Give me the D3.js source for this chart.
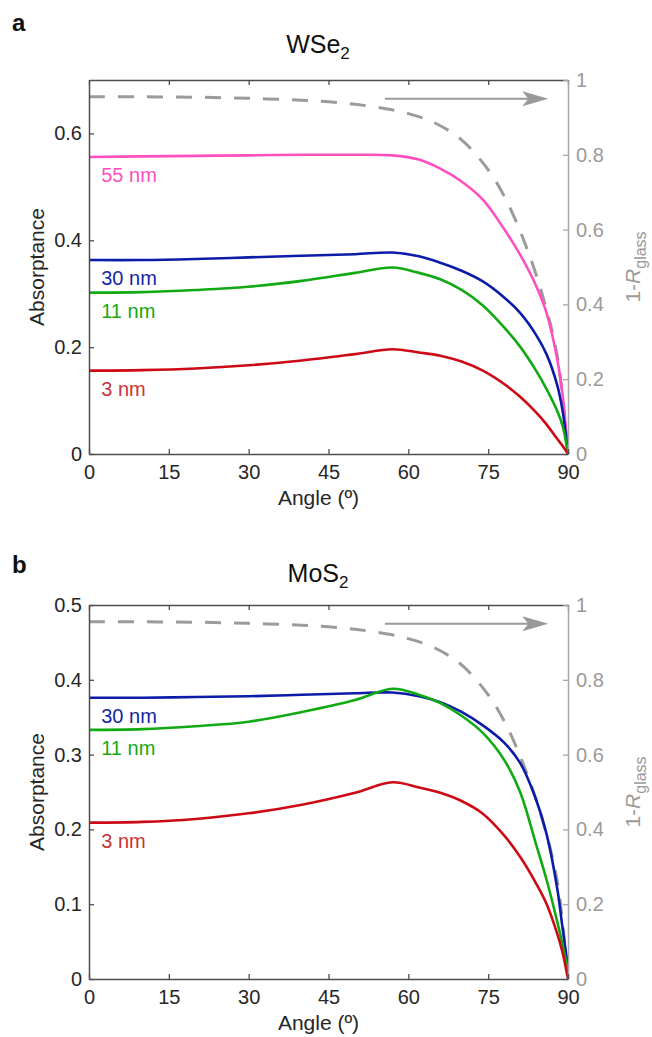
<!DOCTYPE html>
<html>
<head>
<meta charset="utf-8">
<script src="https://cdn.jsdelivr.net/npm/d3@7"></script>
<style>
  html, body { margin: 0; padding: 0; background: #fff; }
  svg { display: block; font-family: "Liberation Sans", Arial, Helvetica, sans-serif; }
</style>
</head>
<body>
<svg id="chart" width="652" height="1037"></svg>
<script>
// Incidence angle grid (degrees) shared by the absorptance curves
const angles = [0, 10, 20, 30, 40, 50, 57, 62, 66, 70, 74, 78, 81, 84, 86, 88, 89, 90];

// WSe2 absorptance for each flake thickness
const wse2_55nm = [0.556, 0.557, 0.558, 0.559, 0.560, 0.560, 0.559, 0.551, 0.534, 0.510, 0.476, 0.421, 0.373, 0.315, 0.263, 0.176, 0.110, 0];
const wse2_30nm = [0.363, 0.363, 0.365, 0.368, 0.371, 0.374, 0.377, 0.370, 0.358, 0.343, 0.323, 0.293, 0.264, 0.223, 0.186, 0.128, 0.080, 0];
const wse2_11nm = [0.302, 0.303, 0.307, 0.313, 0.324, 0.339, 0.349, 0.339, 0.327, 0.307, 0.278, 0.237, 0.201, 0.156, 0.121, 0.080, 0.052, 0];
const wse2_3nm  = [0.156, 0.157, 0.160, 0.166, 0.175, 0.187, 0.196, 0.190, 0.184, 0.173, 0.156, 0.131, 0.107, 0.078, 0.055, 0.028, 0.015, 0];

// MoS2 absorptance for each flake thickness
const mos2_30nm = [0.376, 0.376, 0.377, 0.378, 0.380, 0.382, 0.383, 0.378, 0.370, 0.357, 0.339, 0.316, 0.289, 0.240, 0.193, 0.120, 0.067, 0.016];
const mos2_11nm = [0.333, 0.334, 0.338, 0.344, 0.357, 0.373, 0.388, 0.380, 0.369, 0.352, 0.329, 0.293, 0.250, 0.180, 0.132, 0.076, 0.045, 0.010];
const mos2_3nm  = [0.209, 0.210, 0.214, 0.2215, 0.233, 0.249, 0.263, 0.256, 0.249, 0.238, 0.221, 0.192, 0.1635, 0.128, 0.100, 0.060, 0.035, 0];

// Glass transmission 1 - R_glass (right axis)
const glassAngles = [0, 10, 20, 30, 40, 45, 50, 55, 60, 65, 70, 75, 78, 80, 82, 84, 86, 87, 88, 89, 90];
const glassOneMinusR = [0.955, 0.955, 0.954, 0.951, 0.946, 0.942, 0.935, 0.925, 0.910, 0.885, 0.840, 0.760, 0.690, 0.630, 0.560, 0.480, 0.385, 0.330, 0.260, 0.150, 0];

// Tick values
const angleTicks = [0, 15, 30, 45, 60, 75, 90];
const wse2Ticks = [0, 0.2, 0.4, 0.6];
const mos2Ticks = [0, 0.1, 0.2, 0.3, 0.4, 0.5];
const glassTicks = [0, 0.2, 0.4, 0.6, 0.8, 1];

// Thickness labels and series colours
const thicknessNames = ["55 nm", "30 nm", "11 nm", "3 nm"];
const lineColors = { "55 nm": "#ff4fbf", "30 nm": "#0a1ca8", "11 nm": "#12aa12", "3 nm": "#cc0a16" };
const labelColors = { "55 nm": "#ff4fbf", "30 nm": "#1426a6", "11 nm": "#16a816", "3 nm": "#c83434" };

// Arrow pointing to the right axis (angle range, 1-R level)
const arrowAngles = [55.6, 86.3];
const arrowLevel = 0.95;

const panels = [
  { letter: "a", letterY: 31, title: "WSe", titleY: 53, top: 80, yMax: 0.7, yTicks: wse2Ticks,
    series: [["55 nm", wse2_55nm], ["30 nm", wse2_30nm], ["11 nm", wse2_11nm], ["3 nm", wse2_3nm]] },
  { letter: "b", letterY: 573, title: "MoS", titleY: 582, top: 605, yMax: 0.5, yTicks: mos2Ticks,
    series: [["30 nm", mos2_30nm], ["11 nm", mos2_11nm], ["3 nm", mos2_3nm]] }
];

const svg = d3.select("#chart");
const left = 89, width = 479, height = 374;
const axisDark = "#4d4d4d", textDark = "#262626", axisGray = "#a6a6a6", textGray = "#9a9a9a";

panels.forEach(p => {
  const g = svg.append("g").attr("transform", `translate(${left},${p.top})`);
  const x = d3.scaleLinear().domain([0, 90]).range([0, width]);
  const y = d3.scaleLinear().domain([0, p.yMax]).range([height, 0]);
  const yR = d3.scaleLinear().domain([0, 1]).range([height, 0]);
  const fmt = d => String(d);

  // Panel letter and title
  svg.append("text").attr("x", 12).attr("y", p.letterY)
    .attr("font-size", 24).attr("font-weight", "bold").attr("fill", "#111").text(p.letter);
  const t = svg.append("text").attr("x", 318).attr("y", p.titleY).attr("text-anchor", "middle")
    .attr("font-size", 25).attr("fill", "#111");
  t.append("tspan").text(p.title);
  t.append("tspan").attr("font-size", 17).attr("dy", 6).text("2");

  // Glass curve (dashed, right axis)
  const glassLine = d3.line().x((d, i) => x(glassAngles[i])).y(d => yR(d)).curve(d3.curveCatmullRom.alpha(0.5));
  g.append("path").datum(glassOneMinusR).attr("d", glassLine)
    .attr("fill", "none").attr("stroke", "#9b9b9b").attr("stroke-width", 3)
    .attr("stroke-dasharray", "16,13");

  // Absorptance curves
  const line = d3.line().x((d, i) => x(angles[i])).y(d => y(d)).curve(d3.curveCatmullRom.alpha(0.5));
  p.series.forEach(([name, vals]) => {
    g.append("path").datum(vals).attr("d", line)
      .attr("fill", "none").attr("stroke", lineColors[name]).attr("stroke-width", 2.6)
      .attr("stroke-linejoin", "round");
    g.append("text").attr("x", x(2.3)).attr("y", y(vals[0]) + 25)
      .attr("font-size", 20).attr("fill", labelColors[name]).text(name);
  });

  // Arrow toward the right axis
  const ax0 = x(arrowAngles[0]), ax1 = x(arrowAngles[1]), ay = yR(arrowLevel);
  g.append("line").attr("x1", ax0).attr("x2", ax1 - 20).attr("y1", ay).attr("y2", ay)
    .attr("stroke", "#999").attr("stroke-width", 2);
  g.append("path")
    .attr("d", `M${ax1},${ay} L${ax1 - 26},${ay - 7.5} L${ax1 - 20},${ay} L${ax1 - 26},${ay + 7.5} Z`)
    .attr("fill", "#999");

  // Axes
  const styleAxis = (sel, col, tcol) => {
    sel.select(".domain").attr("stroke", col).attr("stroke-width", 1.5);
    sel.selectAll(".tick line").attr("stroke", col).attr("stroke-width", 1.3);
    sel.selectAll(".tick text").attr("fill", tcol).attr("font-size", 20)
      .attr("font-family", "Liberation Sans, Arial, sans-serif");
  };

  const gxTop = g.append("g").call(d3.axisTop(x).tickValues(angleTicks).tickSizeInner(-5).tickSizeOuter(0).tickFormat(""));
  styleAxis(gxTop, axisDark, textDark);

  const gyR = g.append("g").attr("transform", `translate(${width},0)`)
    .call(d3.axisRight(yR).tickValues(glassTicks).tickSizeInner(-5).tickSizeOuter(0).tickPadding(8).tickFormat(fmt));
  styleAxis(gyR, axisGray, textGray);

  const gx = g.append("g").attr("transform", `translate(0,${height})`)
    .call(d3.axisBottom(x).tickValues(angleTicks).tickSizeInner(-5).tickSizeOuter(0).tickPadding(11).tickFormat(fmt));
  styleAxis(gx, axisDark, textDark);

  const gy = g.append("g")
    .call(d3.axisLeft(y).tickValues(p.yTicks).tickSizeInner(-5).tickSizeOuter(0).tickPadding(7).tickFormat(fmt));
  styleAxis(gy, axisDark, textDark);

  // Axis titles
  g.append("text").attr("x", width / 2 - 10).attr("y", height + 51).attr("text-anchor", "middle")
    .attr("font-size", 21).attr("fill", textDark).text("Angle (º)");
  g.append("text").attr("transform", `translate(${44 - left},${height / 2}) rotate(-90)`)
    .attr("text-anchor", "middle").attr("font-size", 21).attr("fill", textDark).text("Absorptance");
  const rl = g.append("text").attr("transform", `translate(${640 - left},${height / 2}) rotate(-90)`)
    .attr("text-anchor", "middle").attr("font-size", 21).attr("fill", textGray);
  rl.append("tspan").text("1-");
  rl.append("tspan").attr("font-style", "italic").text("R");
  rl.append("tspan").attr("font-size", 16).attr("dy", 6).text("glass");
});
</script>
</body>
</html>
